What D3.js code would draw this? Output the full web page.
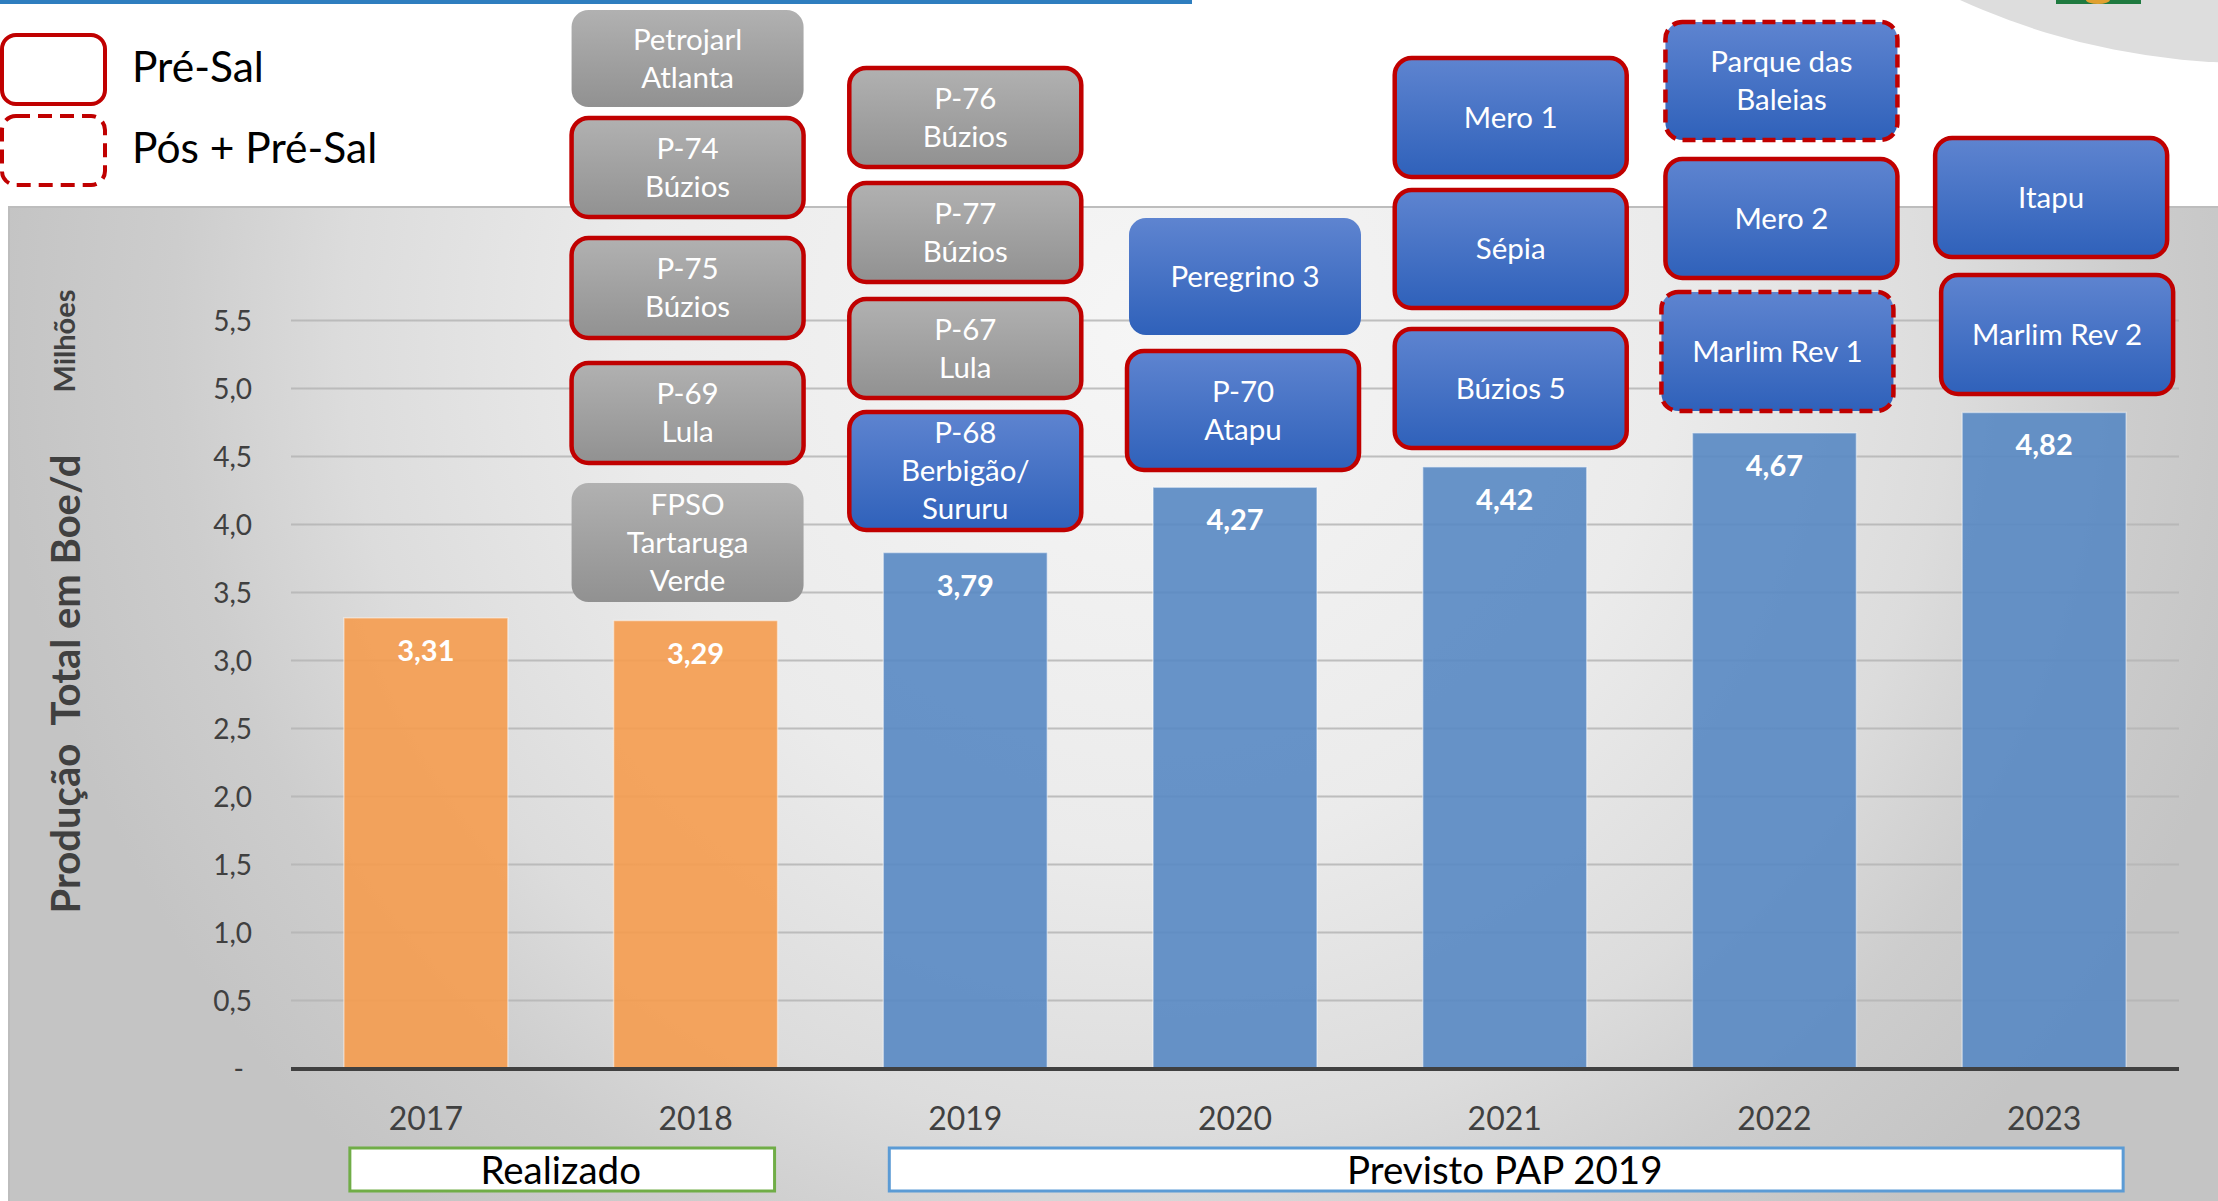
<!DOCTYPE html>
<html>
<head>
<meta charset="utf-8">
<script src="https://cdn.jsdelivr.net/npm/d3@7"></script>
<style>
  body { margin: 0; background: #fff; }
  text { font-family: Lato, "Open Sans", sans-serif; }
</style>
</head>
<body>
<div id="chart"></div>
<script>
const width = 2218;
const height = 1201;

// dados do grafico
const anos = ["2017", "2018", "2019", "2020", "2021", "2022", "2023"];
const producao = [3.31, 3.29, 3.79, 4.27, 4.42, 4.67, 4.82];
const anosRealizados = ["2017", "2018"];
const yTicks = [0, 0.5, 1, 1.5, 2, 2.5, 3, 3.5, 4, 4.5, 5, 5.5];

// plataformas (caixas) por ano
const projetoAno = ["2018", "2018", "2018", "2018", "2018",
  "2019", "2019", "2019", "2019",
  "2020", "2020",
  "2021", "2021", "2021",
  "2022", "2022", "2022",
  "2023", "2023"];
const projetoNome = [
  ["Petrojarl", "Atlanta"], ["P-74", "Búzios"], ["P-75", "Búzios"], ["P-69", "Lula"], ["FPSO", "Tartaruga", "Verde"],
  ["P-76", "Búzios"], ["P-77", "Búzios"], ["P-67", "Lula"], ["P-68", "Berbigão/", "Sururu"],
  ["Peregrino 3"], ["P-70", "Atapu"],
  ["Mero 1"], ["Sépia"], ["Búzios 5"],
  ["Parque das", "Baleias"], ["Mero 2"], ["Marlim Rev 1"],
  ["Itapu"], ["Marlim Rev 2"]];
// "cinza" = ja em operacao, "azul" = previsto
const projetoStatus = ["cinza", "cinza", "cinza", "cinza", "cinza",
  "cinza", "cinza", "cinza", "azul",
  "azul", "azul",
  "azul", "azul", "azul",
  "azul", "azul", "azul",
  "azul", "azul"];
// "pre" = Pré-Sal, "pos" = Pós + Pré-Sal, "" = sem marcação
const projetoTipo = ["", "pre", "pre", "pre", "",
  "pre", "pre", "pre", "pre",
  "", "pre",
  "pre", "pre", "pre",
  "pos", "pre", "pos",
  "pre", "pre"];

// posicao das caixas: [deslocamento x, topo, base]
const caixaLayout = [
  [-8, 10, 107], [-8, 118, 217], [-8, 238, 338], [-8, 363, 463], [-8, 483, 602],
  [0, 68, 167], [0, 183, 282], [0, 299, 398], [0, 412, 530],
  [10, 218, 335], [8, 351, 470],
  [6, 58, 177], [6, 190, 308], [6, 329, 448],
  [7, 22, 140], [7, 159, 278], [3, 292, 411],
  [7, 138, 257], [13, 275, 394]];

const fmt = d3.formatLocale({decimal: ",", thousands: ".", grouping: [3], currency: ["R$", ""]});
const fmtValor = fmt.format(".2f");
const fmtTick = fmt.format(".1f");

const svg = d3.select("#chart").append("svg")
    .attr("width", width)
    .attr("height", height)
    .style("display", "block")
    .style("background", "#fff");

const defs = svg.append("defs");

const painelGrad = defs.append("radialGradient")
    .attr("id", "painel")
    .attr("gradientUnits", "userSpaceOnUse")
    .attr("cx", 1150).attr("cy", 330).attr("r", 1150);
[[0, "#f6f6f6"], [0.45, "#ebebeb"], [0.7, "#dcdcdc"], [0.85, "#cdcdcd"], [1, "#c4c4c4"]]
  .forEach(s => painelGrad.append("stop").attr("offset", s[0]).attr("stop-color", s[1]));

const gradCinza = defs.append("linearGradient").attr("id", "cinza").attr("x1", 0).attr("y1", 0).attr("x2", 0).attr("y2", 1);
gradCinza.append("stop").attr("offset", 0).attr("stop-color", "#b1b1b1");
gradCinza.append("stop").attr("offset", 1).attr("stop-color", "#919191");

const gradAzul = defs.append("linearGradient").attr("id", "azul").attr("x1", 0).attr("y1", 0).attr("x2", 0).attr("y2", 1);
gradAzul.append("stop").attr("offset", 0).attr("stop-color", "#5e84d0");
gradAzul.append("stop").attr("offset", 1).attr("stop-color", "#2f61ba");

// enfeites do slide
svg.append("rect").attr("x", 0).attr("y", 0).attr("width", 1192).attr("height", 4).attr("fill", "#2e7ebf");
svg.append("circle").attr("cx", 2250).attr("cy", -636).attr("r", 699).attr("fill", "#dddddd");
svg.append("rect").attr("x", 2056).attr("y", 0).attr("width", 85).attr("height", 4).attr("fill", "#1f7a40");
svg.append("ellipse").attr("cx", 2098).attr("cy", 0).attr("rx", 12).attr("ry", 4).attr("fill", "#e0a030");

// painel do grafico
svg.append("rect")
    .attr("x", 9).attr("y", 207)
    .attr("width", 2215).attr("height", 1000)
    .attr("fill", "url(#painel)")
    .attr("stroke", "#bdbdbd")
    .attr("stroke-width", 2);

const x = d3.scaleBand()
    .domain(anos)
    .range([291, 2179])
    .paddingInner(0.392)
    .paddingOuter(0.196);

const y = d3.scaleLinear()
    .domain([0, 5.5])
    .range([1068, 320]);

// linhas de grade
svg.append("g")
    .attr("transform", "translate(291,0)")
    .call(d3.axisLeft(y).tickValues(yTicks.slice(1)).tickSize(-(2179 - 291)).tickFormat(""))
    .call(g => g.select(".domain").remove())
    .call(g => g.selectAll("line").attr("stroke", "#b5b5b5").attr("stroke-width", 2).attr("stroke-opacity", 0.85));

// eixo y
svg.append("g")
    .attr("transform", "translate(291,0)")
    .call(d3.axisLeft(y).tickValues(yTicks).tickSize(0).tickPadding(39)
      .tickFormat(d => d === 0 ? "-" : fmtTick(d)))
    .call(g => g.select(".domain").remove())
    .call(g => g.selectAll("text")
      .attr("font-family", "Lato, sans-serif")
      .attr("font-size", 28)
      .attr("fill", "#404040")
      .attr("dy", "0.36em")
      .attr("dx", d => d === 0 ? -8 : 0));

// barras
svg.append("g")
  .selectAll("rect")
  .data(anos)
  .join("rect")
    .attr("x", d => x(d))
    .attr("y", (d, i) => y(producao[i]))
    .attr("width", x.bandwidth())
    .attr("height", (d, i) => y(0) - y(producao[i]))
    .attr("fill", d => anosRealizados.includes(d) ? "#f59c4f" : "#5888c3")
    .attr("fill-opacity", 0.9)
    .attr("stroke", "#ffffff")
    .attr("stroke-opacity", 0.45)
    .attr("stroke-width", 1.5);

// rotulos de valor
svg.append("g")
  .selectAll("text")
  .data(anos)
  .join("text")
    .attr("x", d => x(d) + x.bandwidth() / 2)
    .attr("y", (d, i) => y(producao[i]) + 43)
    .attr("text-anchor", "middle")
    .attr("font-size", 29)
    .attr("font-weight", "bold")
    .attr("fill", "#ffffff")
    .text((d, i) => fmtValor(producao[i]));

// linha de base
svg.append("line")
    .attr("x1", 291).attr("x2", 2179)
    .attr("y1", y(0) + 1).attr("y2", y(0) + 1)
    .attr("stroke", "#404040")
    .attr("stroke-width", 4);

// eixo x
svg.append("g")
    .attr("transform", `translate(0,${y(0)})`)
    .call(d3.axisBottom(x).tickSize(0).tickPadding(0))
    .call(g => g.select(".domain").remove())
    .call(g => g.selectAll("text")
      .attr("font-family", "Lato, sans-serif")
      .attr("font-size", 32)
      .attr("fill", "#404040")
      .attr("dy", null)
      .attr("y", 62));

// titulos do eixo y
svg.append("text")
    .attr("transform", "translate(80,684) rotate(-90)")
    .attr("text-anchor", "middle")
    .attr("font-size", 40)
    .attr("font-weight", "bold")
    .attr("fill", "#404040")
    .attr("xml:space", "preserve")
    .text("Produção  Total em Boe/d");

svg.append("text")
    .attr("transform", "translate(75,341) rotate(-90)")
    .attr("text-anchor", "middle")
    .attr("font-size", 29)
    .attr("font-weight", "bold")
    .attr("fill", "#404040")
    .text("Milhões");

// grupos Realizado / Previsto
const grupos = [
  {nome: "Realizado", anos: anosRealizados, cor: "#70ad47"},
  {nome: "Previsto PAP 2019", anos: anos.filter(a => !anosRealizados.includes(a)), cor: "#5b9bd5"}
];
const grupoG = svg.append("g")
  .selectAll("g")
  .data(grupos)
  .join("g");
grupoG.append("rect")
    .attr("x", d => x(d.anos[0]) + 6)
    .attr("y", 1148)
    .attr("width", d => x(d.anos[d.anos.length - 1]) + x.bandwidth() - 3 - x(d.anos[0]) - 6)
    .attr("height", 43)
    .attr("fill", "#ffffff")
    .attr("stroke", d => d.cor)
    .attr("stroke-width", 3);
grupoG.append("text")
    .attr("x", d => (x(d.anos[0]) + x(d.anos[d.anos.length - 1]) + x.bandwidth()) / 2)
    .attr("y", 1184)
    .attr("text-anchor", "middle")
    .attr("font-size", 38.5)
    .attr("fill", "#000000")
    .text(d => d.nome);

// caixas das plataformas
const caixaLargura = 232;
const caixas = svg.append("g")
  .selectAll("g")
  .data(projetoNome.map((nome, i) => i))
  .join("g")
    .attr("transform", i => {
      const cx = x(projetoAno[i]) + x.bandwidth() / 2 + caixaLayout[i][0];
      return `translate(${cx},${caixaLayout[i][1]})`;
    });

caixas.append("rect")
    .attr("x", -caixaLargura / 2)
    .attr("y", 0)
    .attr("width", caixaLargura)
    .attr("height", i => caixaLayout[i][2] - caixaLayout[i][1])
    .attr("rx", 17)
    .attr("fill", i => projetoStatus[i] === "cinza" ? "url(#cinza)" : "url(#azul)")
    .attr("stroke", i => projetoTipo[i] ? "#c00000" : "none")
    .attr("stroke-width", 4.5)
    .attr("stroke-dasharray", i => projetoTipo[i] === "pos" ? "13,7" : null);

caixas.each(function(i) {
  const h = caixaLayout[i][2] - caixaLayout[i][1];
  const linhas = projetoNome[i];
  d3.select(this).selectAll("text")
    .data(linhas)
    .join("text")
      .attr("x", 0)
      .attr("y", (d, j) => h / 2 - (linhas.length - 1) * 19 + j * 38 + 10)
      .attr("text-anchor", "middle")
      .attr("font-size", 29.5)
      .attr("fill", "#ffffff")
      .text(d => d);
});

// legenda
const legenda = [
  {nome: "Pré-Sal", tipo: "pre", y: 35},
  {nome: "Pós + Pré-Sal", tipo: "pos", y: 116}
];
const legG = svg.append("g")
  .selectAll("g")
  .data(legenda)
  .join("g");
legG.append("rect")
    .attr("x", 2)
    .attr("y", d => d.y)
    .attr("width", 103)
    .attr("height", 69)
    .attr("rx", 14)
    .attr("fill", "#ffffff")
    .attr("stroke", "#c00000")
    .attr("stroke-width", 4)
    .attr("stroke-dasharray", d => d.tipo === "pos" ? "14,8" : null);
legG.append("text")
    .attr("x", 132)
    .attr("y", d => d.y + 47)
    .attr("font-size", 42.5)
    .attr("fill", "#000000")
    .text(d => d.nome);
</script>
</body>
</html>
